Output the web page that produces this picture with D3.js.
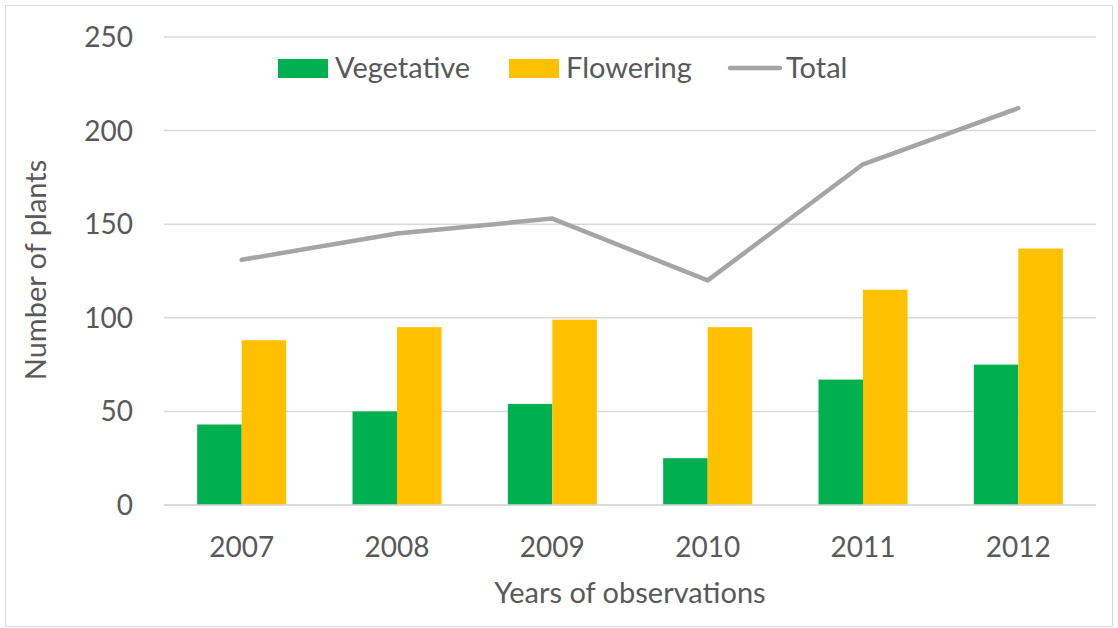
<!DOCTYPE html>
<html><head><meta charset="utf-8">
<script src="https://cdn.jsdelivr.net/npm/d3@7"></script>
<style>body{margin:0;background:#fff}svg text{font-family:Lato,"Open Sans",sans-serif;fill:#595959}</style>
</head><body><svg id="c" width="1118" height="628"></svg>
<script>
const years = ["2007","2008","2009","2010","2011","2012"];
const vegetative = [43,50,54,25,67,75];
const flowering = [88,95,99,95,115,137];
const total = [131,145,153,120,182,212];
const yTicks = [0,50,100,150,200,250];

const svg = d3.select("#c");
svg.append("rect").attr("x",5.5).attr("y",5.5).attr("width",1107).attr("height",621)
  .attr("fill","#fff").attr("stroke","#d9d9d9");
const L=164,R=1096,T=37,B=505;
const x = d3.scaleBand().domain(years).range([L,R]).paddingInner(0).paddingOuter(0);
const y = d3.scaleLinear().domain([0,250]).range([B,T]);
const bw = 44.5;

svg.append("g").selectAll("line").data(yTicks).join("line")
  .attr("x1",L).attr("x2",R).attr("y1",d=>y(d)).attr("y2",d=>y(d))
  .attr("stroke","#d9d9d9").attr("stroke-width",1.5);
svg.append("g").selectAll("text").data(yTicks).join("text")
  .attr("x",133).attr("y",d=>y(d)).attr("dy","0.36em").attr("text-anchor","end")
  .attr("font-size",28).text(d=>d);

const cx = d=>x(d)+x.bandwidth()/2;
svg.append("g").selectAll("rect").data(years).join("rect")
  .attr("x",(d)=>cx(d)-bw).attr("width",bw)
  .attr("y",(d,i)=>y(vegetative[i])).attr("height",(d,i)=>B-y(vegetative[i]))
  .attr("fill","#00b050");
svg.append("g").selectAll("rect").data(years).join("rect")
  .attr("x",(d)=>cx(d)).attr("width",bw)
  .attr("y",(d,i)=>y(flowering[i])).attr("height",(d,i)=>B-y(flowering[i]))
  .attr("fill","#ffc000");
svg.append("line").attr("x1",L).attr("x2",R).attr("y1",B).attr("y2",B)
  .attr("stroke","#d9d9d9").attr("stroke-width",1.5);

svg.append("path").datum(total)
  .attr("d",d3.line().x((d,i)=>cx(years[i])).y(d=>y(d)))
  .attr("fill","none").attr("stroke","#a5a5a5").attr("stroke-width",4.5)
  .attr("stroke-linejoin","round").attr("stroke-linecap","round");

svg.append("g").selectAll("text").data(years).join("text")
  .attr("x",d=>cx(d)).attr("y",557).attr("text-anchor","middle")
  .attr("font-size",28).text(d=>d);

svg.append("text").attr("x",630).attr("y",603).attr("text-anchor","middle")
  .attr("font-size",29).text("Years of observations");
svg.append("text").attr("transform","translate(46,270) rotate(-90)").attr("text-anchor","middle")
  .attr("font-size",29).text("Number of plants");

// legend
const lg = svg.append("g");
lg.append("rect").attr("x",278).attr("y",59).attr("width",50).attr("height",19).attr("fill","#00b050");
lg.append("text").attr("x",335).attr("y",68).attr("dy","0.36em").attr("font-size",29).text("Vegetative");
lg.append("rect").attr("x",509).attr("y",59).attr("width",50).attr("height",19).attr("fill","#ffc000");
lg.append("text").attr("x",566).attr("y",68).attr("dy","0.36em").attr("font-size",29).text("Flowering");
lg.append("line").attr("x1",730).attr("x2",780).attr("y1",68).attr("y2",68)
  .attr("stroke","#a5a5a5").attr("stroke-width",4.5).attr("stroke-linecap","round");
lg.append("text").attr("x",786).attr("y",68).attr("dy","0.36em").attr("font-size",29).text("Total");
</script></body></html>
